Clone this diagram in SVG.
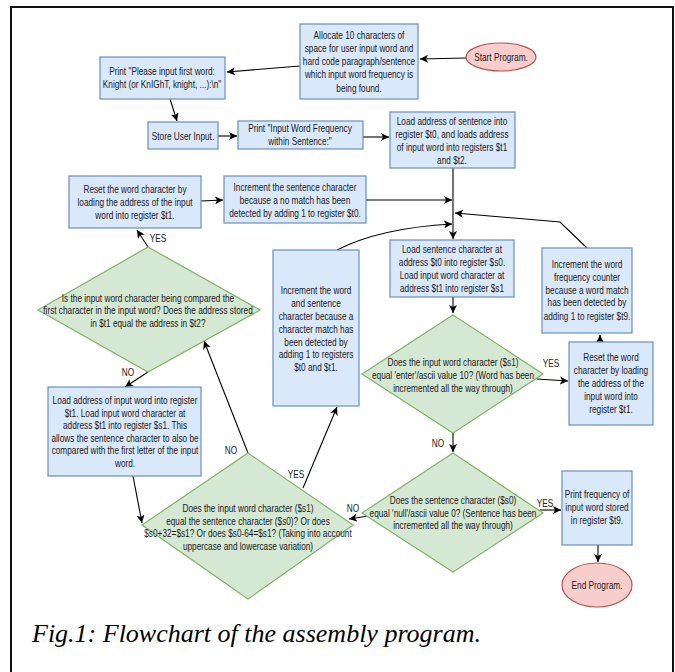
<svg xmlns="http://www.w3.org/2000/svg" width="675" height="672" viewBox="0 0 675 672">
<defs>
<style>
.b{fill:#dae8fc;stroke:#6c8ebf;stroke-width:1.2}
.d{fill:#d5e8d4;stroke:#82b366;stroke-width:1.2}
.e{fill:#f8cecc;stroke:#b85450;stroke-width:1.2}
text{font-family:"Liberation Sans",Arial,sans-serif;font-size:11px;fill:#1a1a1a;text-anchor:middle}
.c{fill:none;stroke:#000;stroke-width:1.1;marker-end:url(#ah)}
text.cap{font-family:"Liberation Serif","Times New Roman",serif;font-style:italic;font-size:26px;fill:#000;text-anchor:start}
</style>
<marker id="ah" markerUnits="userSpaceOnUse" markerWidth="9" markerHeight="8" refX="8" refY="4" orient="auto">
<path d="M0,0 L8,4 L0,8 L2,4 z" fill="#000"/>
</marker>
</defs>
<rect x="0" y="0" width="675" height="672" fill="#fff"/>
<rect x="11" y="7" width="662" height="700" fill="#fff" stroke="#111" stroke-width="2"/>

<g id="connectors">
<path class="c" d="M466,58 L420,59"/>
<path class="c" d="M300,66 L227,72"/>
<path class="c" d="M170,99 L177,121"/>
<path class="c" d="M218,136 L237,136"/>
<path class="c" d="M363,137 L389,137"/>
<path class="c" d="M453,168 L453,239"/>
<path class="c" d="M366,200 L452,200"/>
<path class="c" d="M587,248 L560,222 L455,213"/>
<path class="c" d="M337,250 Q380,228 452,224"/>
<path class="c" d="M453,297 L453,313"/>
<path class="c" d="M537,379 L568,381"/>
<path class="c" d="M600,342 L600,335"/>
<path class="c" d="M453,433 L453,452"/>
<path class="c" d="M540,510 L561,510"/>
<path class="c" d="M598,545 L598,562"/>
<path class="c" d="M368,516 L349,519"/>
<path class="c" d="M248,453 L204,341"/>
<path class="c" d="M303,488 L337,407"/>
<path class="c" d="M148,247 L137,230"/>
<path class="c" d="M201,201 L223,200"/>
<path class="c" d="M148,372 L125,387"/>
<path class="c" d="M133,476 L142,523"/>
<g transform="translate(551 0) scale(0.75 1)"><text x="0" y="367">YES</text></g>
<g transform="translate(545 0) scale(0.75 1)"><text x="0" y="507">YES</text></g>
<g transform="translate(438 0) scale(0.75 1)"><text x="0" y="447">NO</text></g>
<g transform="translate(353 0) scale(0.75 1)"><text x="0" y="512">NO</text></g>
<g transform="translate(231 0) scale(0.75 1)"><text x="0" y="454">NO</text></g>
<g transform="translate(296 0) scale(0.75 1)"><text x="0" y="478">YES</text></g>
<g transform="translate(158 0) scale(0.75 1)"><text x="0" y="242">YES</text></g>
<g transform="translate(128 0) scale(0.75 1)"><text x="0" y="376">NO</text></g>
</g>

<g id="start">
<ellipse class="e" cx="501" cy="57" rx="35" ry="14"/>
<g transform="translate(501 0) scale(0.75 1)"><text x="0" y="61">Start Program.</text></g>
</g>

<g id="allocate">
<rect class="b" x="300" y="24" width="118" height="75"/>
<g transform="translate(359 0) scale(0.75 1)">
<text x="0" y="39">Allocate 10 characters of</text>
<text x="0" y="52">space for user input word and</text>
<text x="0" y="65">hard code paragraph/sentence</text>
<text x="0" y="78">which input word frequency is</text>
<text x="0" y="92">being found.</text>
</g>
</g>

<g id="print-input">
<rect class="b" x="100" y="57" width="125" height="42"/>
<g transform="translate(162 0) scale(0.75 1)">
<text x="0" y="75">Print "Please input first word:</text>
<text x="0" y="88">Knight (or KnIGhT, knight, ...):\n"</text>
</g>
</g>

<g id="store">
<rect class="b" x="148" y="122" width="70" height="27"/>
<g transform="translate(183 0) scale(0.75 1)"><text x="0" y="140">Store User Input.</text></g>
</g>

<g id="print-freq-title">
<rect class="b" x="238" y="121" width="125" height="28"/>
<g transform="translate(300 0) scale(0.75 1)">
<text x="0" y="132">Print "Input Word Frequency</text>
<text x="0" y="145">within Sentence:"</text>
</g>
</g>

<g id="load-addr">
<rect class="b" x="390" y="112" width="125" height="56"/>
<g transform="translate(452 0) scale(0.75 1)">
<text x="0" y="125">Load address of sentence into</text>
<text x="0" y="138">register $t0, and loads address</text>
<text x="0" y="151">of input word into registers $t1</text>
<text x="0" y="164">and $t2.</text>
</g>
</g>

<g id="reset-left">
<rect class="b" x="69" y="176" width="132" height="52"/>
<g transform="translate(135 0) scale(0.75 1)">
<text x="0" y="193">Reset the word character by</text>
<text x="0" y="206">loading the address of the input</text>
<text x="0" y="219">word into register $t1.</text>
</g>
</g>

<g id="inc-sentence">
<rect class="b" x="224" y="176" width="142" height="47"/>
<g transform="translate(295 0) scale(0.75 1)">
<text x="0" y="191">Increment the sentence character</text>
<text x="0" y="204">because a no match has been</text>
<text x="0" y="217">detected by adding 1 to register $t0.</text>
</g>
</g>

<g id="load-sentence">
<rect class="b" x="390" y="240" width="124" height="57"/>
<g transform="translate(452 0) scale(0.75 1)">
<text x="0" y="253">Load sentence character at</text>
<text x="0" y="266">address $t0 into register $s0.</text>
<text x="0" y="279">Load input word character at</text>
<text x="0" y="292">address $t1 into register $s1</text>
</g>
</g>

<g id="inc-word">
<rect class="b" x="273" y="250" width="86" height="156"/>
<g transform="translate(316 0) scale(0.75 1)">
<text x="0" y="294">Increment the word</text>
<text x="0" y="307">and sentence</text>
<text x="0" y="320">character because a</text>
<text x="0" y="333">character match has</text>
<text x="0" y="346">been detected by</text>
<text x="0" y="358">adding 1 to registers</text>
<text x="0" y="371">$t0 and $t1.</text>
</g>
</g>

<g id="freq-counter">
<rect class="b" x="542" y="248" width="90" height="85"/>
<g transform="translate(587 0) scale(0.75 1)">
<text x="0" y="268">Increment the word</text>
<text x="0" y="281">frequency counter</text>
<text x="0" y="294">because a word match</text>
<text x="0" y="306">has been detected by</text>
<text x="0" y="320">adding 1 to register $t9.</text>
</g>
</g>

<g id="reset-right">
<rect class="b" x="569" y="342" width="84" height="83"/>
<g transform="translate(611 0) scale(0.75 1)">
<text x="0" y="361">Reset the word</text>
<text x="0" y="374">character by loading</text>
<text x="0" y="387">the address of the</text>
<text x="0" y="400">input word into</text>
<text x="0" y="413">register $t1.</text>
</g>
</g>

<g id="dec-enter">
<polygon class="d" points="453,315 543,374 453,433 362,374"/>
<g transform="translate(453 0) scale(0.75 1)">
<text x="0" y="366">Does the input word character ($s1)</text>
<text x="0" y="379">equal 'enter'/ascii value 10? (Word has been</text>
<text x="0" y="392">incremented all the way through)</text>
</g>
</g>

<g id="dec-null">
<polygon class="d" points="453,453 543,513 453,572 362,513"/>
<g transform="translate(453 0) scale(0.75 1)">
<text x="0" y="504">Does the sentence character ($s0)</text>
<text x="0" y="517">equal 'null'/ascii value 0? (Sentence has been</text>
<text x="0" y="529">incremented all the way through)</text>
</g>
</g>

<g id="print-result">
<rect class="b" x="562" y="471" width="70" height="74"/>
<g transform="translate(597 0) scale(0.75 1)">
<text x="0" y="498">Print frequency of</text>
<text x="0" y="511">input word stored</text>
<text x="0" y="524">in register $t9.</text>
</g>
</g>

<g id="end">
<ellipse class="e" cx="597" cy="585" rx="35" ry="22"/>
<g transform="translate(597 0) scale(0.75 1)"><text x="0" y="589">End Program.</text></g>
</g>

<g id="dec-compare">
<polygon class="d" points="248,453 353,525 248,599 142,525"/>
<g transform="translate(248 0) scale(0.75 1)">
<text x="0" y="512">Does the input word character ($s1)</text>
<text x="0" y="525">equal the sentence character ($s0)? Or does</text>
<text x="0" y="537">$s0+32=$s1? Or does $s0-64=$s1? (Taking into account</text>
<text x="0" y="550">uppercase and lowercase variation)</text>
</g>
</g>

<g id="dec-first">
<polygon class="d" points="148,247 260,310 148,372 38,310"/>
<g transform="translate(148 0) scale(0.75 1)">
<text x="0" y="302">Is the input word character being compared the</text>
<text x="0" y="314">first character in the input word? Does the address stored</text>
<text x="0" y="327">in $t1 equal the address in $t2?</text>
</g>
</g>

<g id="load-input-addr">
<rect class="b" x="48" y="387" width="153" height="89"/>
<g transform="translate(125 0) scale(0.75 1)">
<text x="0" y="404">Load address of input word into register</text>
<text x="0" y="417">$t1. Load input word character at</text>
<text x="0" y="429">address $t1 into register $s1. This</text>
<text x="0" y="442">allows the sentence character to also be</text>
<text x="0" y="454">compared with the first letter of the input</text>
<text x="0" y="467">word.</text>
</g>
</g>

<text class="cap" x="32" y="642">Fig.1: Flowchart of the assembly program.</text>
</svg>
